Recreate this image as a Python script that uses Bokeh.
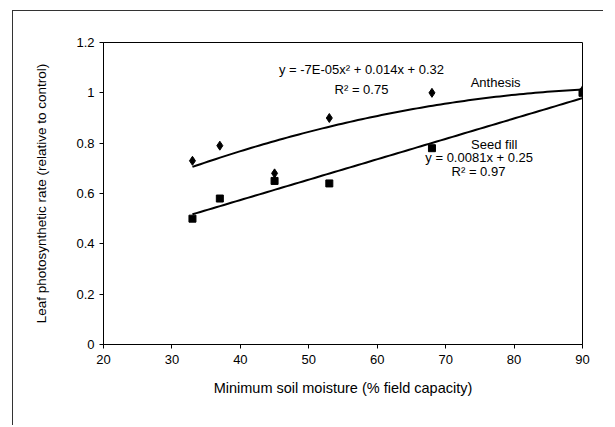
import numpy as np
from bokeh.plotting import figure
from bokeh.layouts import column
from bokeh.models import Range1d, FixedTicker, Label
from bokeh.embed import file_html
from bokeh.resources import INLINE

# ---- data ----
moisture = [33, 37, 45, 53, 68, 90]
anthesis = [0.73, 0.79, 0.68, 0.90, 1.00, 1.01]
seed_fill = [0.50, 0.58, 0.65, 0.64, 0.78, 1.00]

# trendline coefficients shown on the chart
anthesis_coef = [-7e-05, 0.014, 0.32]   # quadratic
seed_coef = [0.0081, 0.25]               # linear

x_ticks = [20, 30, 40, 50, 60, 70, 80, 90]
y_ticks = [0, 0.2, 0.4, 0.6, 0.8, 1.0, 1.2]

FONT = "Liberation Sans"

p = figure(width=590, height=414, output_backend="svg", toolbar_location=None,
           x_range=Range1d(20, 90), y_range=Range1d(0, 1.2),
           min_border_left=90, min_border_right=21, min_border_top=31, min_border_bottom=81)
p.xgrid.visible = False
p.ygrid.visible = False
p.outline_line_color = "black"
p.outline_line_width = 1
p.background_fill_color = "white"
p.border_fill_color = "white"

for ax in (p.xaxis, p.yaxis):
    ax.axis_line_color = "black"
    ax.major_tick_line_color = "black"
    ax.minor_tick_line_color = None
    ax.major_tick_in = 0
    ax.major_tick_out = 4
    ax.major_label_text_font = FONT
    ax.major_label_text_font_size = "13px"
    ax.major_label_text_color = "black"
    ax.axis_label_text_font = FONT
    ax.axis_label_text_font_style = "normal"
    ax.axis_label_text_color = "black"

p.xaxis.axis_label_text_font_size = "14.5px"
p.yaxis.axis_label_text_font_size = "13.5px"
p.xaxis.ticker = FixedTicker(ticks=x_ticks)
p.yaxis.ticker = FixedTicker(ticks=y_ticks)
p.yaxis.major_label_overrides = {0: "0", 1: "1"}
p.xaxis.major_label_standoff = 6
p.yaxis.major_label_standoff = 5
p.xaxis.axis_label = "Minimum soil moisture (% field capacity)"
p.yaxis.axis_label = "Leaf photosynthetic rate (relative to control)"
p.xaxis.axis_label_standoff = 13
p.yaxis.axis_label_standoff = 24

# trendlines
xs = np.linspace(min(moisture), max(moisture), 100)
ya = np.polyval(anthesis_coef, xs)
ys = np.polyval(seed_coef, xs)
p.line(xs, ya, line_color="black", line_width=2)
p.line(xs, ys, line_color="black", line_width=2)

# points
p.scatter(moisture, anthesis, marker="diamond", size=9, fill_color="black", line_color="black")
p.scatter(moisture, seed_fill, marker="square", size=7, fill_color="black", line_color="black")

def lab(x, y, t):
    p.add_layout(Label(x=x, y=y, text=t, text_font=FONT, text_font_size="13px",
                       text_align="center", text_baseline="middle", text_color="black"))

lab(57.7, 1.091, "y = -7E-05x² + 0.014x + 0.32")
lab(57.7, 1.015, "R² = 0.75")
lab(77.3, 1.042, "Anthesis")
lab(77.1, 0.794, "Seed fill")
lab(74.9, 0.742, "y = 0.0081x + 0.25")
lab(74.8, 0.687, "R² = 0.97")

# outer chart frame (left and top edges visible in the crop)
layout = column(p, margin=(10, 0, 0, 12),
                styles={"border-left": "1.5px solid #333333",
                        "border-top": "1.5px solid #333333"})

open("out.html", "w").write(file_html(layout, INLINE))
